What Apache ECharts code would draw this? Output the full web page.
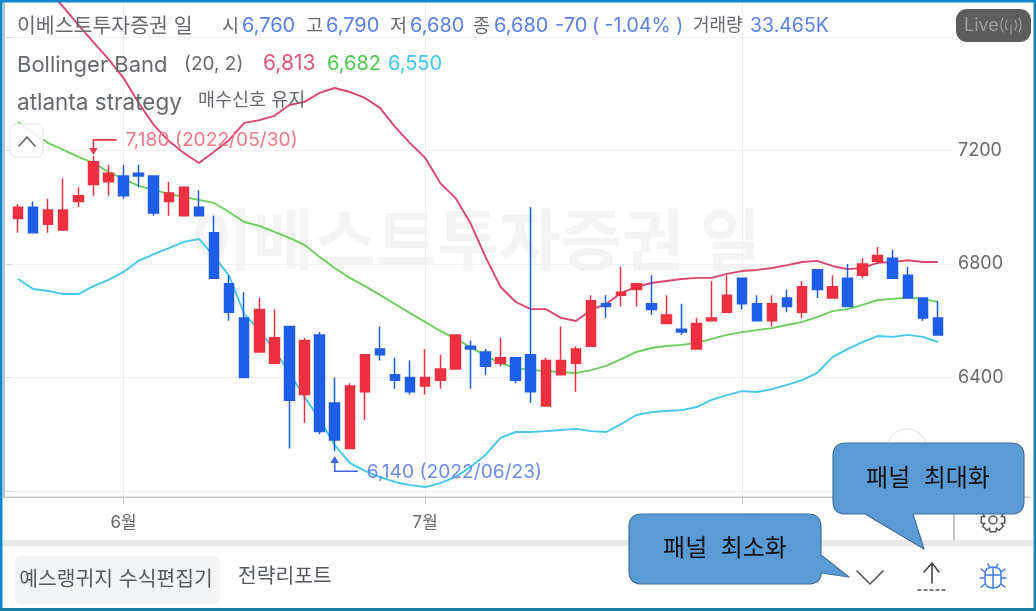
<!DOCTYPE html>
<html>
<head>
<meta charset="utf-8">
<title>이베스트투자증권 일</title>
<script src="https://cdn.jsdelivr.net/npm/echarts@6/dist/echarts.min.js"></script>
<style>
  html, body { margin: 0; padding: 0; background: #fff; }
  #main { width: 1036px; height: 611px; }
</style>
</head>
<body>
<div id="main"></div>
<script>
  // trading days 2022/05/23 ~ 2022/08/19
  var dates = ['05/23','05/24','05/25','05/26','05/27','05/30','05/31','06/02','06/03','06/07',
    '06/08','06/09','06/10','06/13','06/14','06/15','06/16','06/17','06/20','06/21',
    '06/22','06/23','06/24','06/27','06/28','06/29','06/30','07/01','07/04','07/05',
    '07/06','07/07','07/08','07/11','07/12','07/13','07/14','07/15','07/18','07/19',
    '07/20','07/21','07/22','07/25','07/26','07/27','07/28','07/29','08/01','08/02',
    '08/03','08/04','08/05','08/08','08/09','08/10','08/11','08/12','08/16','08/17',
    '08/18','08/19'];

  var opens = [6960,7000,6940,6920,7020,7080,7090,7110,7120,7110,
    7020,6970,7000,6910,6730,6610,6490,6450,6580,6340,
    6550,6310,6150,6350,6500,6410,6400,6370,6390,6430,
    6510,6490,6450,6470,6480,6300,6410,6450,6510,6660,
    6690,6710,6660,6590,6570,6500,6600,6630,6750,6660,
    6600,6680,6630,6780,6680,6750,6760,6810,6820,6760,
    6680,6610];
  var closes = [7000,6910,6990,6990,7040,7160,7120,7040,7110,6980,
    7050,7070,6970,6750,6630,6400,6640,6540,6320,6530,
    6210,6180,6370,6480,6480,6390,6350,6400,6430,6550,
    6500,6440,6470,6390,6350,6460,6460,6500,6670,6650,
    6700,6730,6640,6620,6560,6590,6610,6690,6660,6600,
    6660,6650,6720,6710,6720,6650,6800,6830,6750,6680,
    6610,6550];
  var lows = [6910,6910,6910,6920,7000,7040,7040,7030,7070,6970,
    6970,6970,6970,6750,6600,6400,6490,6450,6150,6240,
    6200,6140,6150,6250,6460,6360,6340,6340,6360,6430,
    6360,6410,6440,6380,6310,6300,6410,6350,6510,6610,
    6650,6650,6620,6590,6550,6500,6600,6630,6640,6600,
    6580,6630,6610,6680,6680,6650,6750,6800,6750,6680,
    6600,6550];
  var highs = [7010,7020,7030,7100,7070,7180,7150,7150,7150,7110,
    7090,7070,7060,6970,6760,6700,6680,6640,6580,6540,
    6560,6400,6380,6480,6580,6470,6460,6500,6480,6550,
    6530,6500,6540,6470,7000,6470,6580,6510,6690,6690,
    6790,6730,6760,6690,6660,6610,6740,6760,6750,6690,
    6690,6710,6740,6780,6760,6800,6820,6860,6850,6790,
    6680,6670];

  var bollUpper = [7889,7829,7766,7706,7642,7582,7522,7455,7367,7290,
    7233,7191,7156,7195,7237,7297,7307,7322,7360,7371,
    7403,7420,7406,7385,7350,7283,7226,7174,7085,7033,
    6944,6825,6719,6666,6641,6641,6610,6599,6638,6659,
    6698,6719,6733,6740,6747,6751,6751,6765,6775,6779,
    6786,6796,6807,6811,6793,6782,6786,6804,6807,6813,
    6807,6807];
  var bollMiddle = [7300,7262,7226,7202,7177,7156,7124,7100,7075,7061,
    7047,7036,7026,7015,6983,6948,6934,6913,6892,6867,
    6825,6786,6751,6722,6691,6659,6627,6596,6564,6536,
    6508,6476,6451,6434,6426,6423,6419,6416,6426,6441,
    6465,6490,6504,6511,6515,6522,6536,6550,6560,6567,
    6574,6585,6596,6613,6634,6641,6656,6673,6677,6682,
    6677,6666];
  var bollLower = [6747,6712,6705,6694,6694,6722,6744,6772,6811,6835,
    6856,6878,6888,6828,6758,6624,6567,6497,6416,6331,
    6254,6162,6099,6071,6049,6032,6021,6014,6028,6049,
    6085,6127,6187,6208,6208,6211,6215,6219,6211,6208,
    6236,6268,6278,6282,6285,6296,6321,6338,6352,6349,
    6359,6374,6391,6416,6472,6500,6525,6546,6543,6550,
    6543,6525];

  var monthTicks = ['06/02','07/01','08/01'];
  var monthLabels = ['6월','7월','8월'];
  var priceGrid = [6000,6400,6800,7200,7600];
  var priceLabels = [6400,6800,7200];

  var FONT = 'Inter, "Noto Sans CJK KR", sans-serif';
  var GREY = '#666a6e';
  var BLUE = '#5b80ea';
  var UP = '#ee3040';
  var DOWN = '#1f5ee8';

  var candles = dates.map(function (d, i) {
    return [opens[i], closes[i], lows[i], highs[i]];
  });

  function txt(x, y, text, color, size, align, z) {
    return {
      type: 'text', x: x, y: y, z: z || 50, silent: true,
      style: {
        text: text, fill: color, fontSize: size, fontFamily: FONT,
        align: align || 'left', verticalAlign: 'middle'
      }
    };
  }
  function box(x, y, w, h, fill, r, z, line) {
    return {
      type: 'rect', z: z || 40, silent: true,
      shape: { x: x, y: y, width: w, height: h, r: r || 0 },
      style: { fill: fill, stroke: line || null, lineWidth: line ? 1 : 0 }
    };
  }
  // graphic component has no plain 'path' type, so register each outline as a shape
  var shapeCount = 0;
  function stroke(pathData, color, width, z, fill) {
    var name = 'chromePath' + (shapeCount++);
    echarts.graphic.registerShape(name, echarts.graphic.extendPath(pathData, {}));
    return {
      type: name, z: z || 45, silent: true,
      style: { fill: fill || 'none', stroke: color, lineWidth: width, lineJoin: 'round', lineCap: 'round' }
    };
  }
  function gearPath(cx, cy, r1, r2) {
    var p = '', n = 8;
    for (var i = 0; i < n; i++) {
      var a = i * 2 * Math.PI / n;
      var pts = [[r1, a - 0.42], [r2, a - 0.24], [r2, a + 0.24], [r1, a + 0.42]];
      pts.forEach(function (q, j) {
        p += ((i === 0 && j === 0) ? 'M' : 'L') + (cx + q[0] * Math.cos(q[1])).toFixed(1) + ' ' + (cy + q[0] * Math.sin(q[1])).toFixed(1) + ' ';
      });
    }
    return p + 'Z';
  }

  var chrome = [
    // watermark
    {
      type: 'text', x: 476, y: 245, z: -1, silent: true,
      style: { text: '이베스트투자증권 일', fill: '#f4f4f5', fontSize: 67, fontWeight: 'bold', fontFamily: FONT, align: 'center', verticalAlign: 'middle' }
    },
    // axis extensions
    box(953, 497, 2, 43, '#c4c4c4', 0, 3),
    box(4, 496.5, 1026, 1.5, '#c8c8c8', 0, 3),
    // ghost button
    { type: 'circle', z: 3, silent: true, shape: { cx: 907, cy: 449, r: 20 }, style: { fill: 'none', stroke: '#ececec', lineWidth: 1.5 } },
    // legend
    txt(17, 27, '이베스트투자증권 일', GREY, 20.5),
    txt(222, 26, '시', GREY, 18.5), txt(242, 26, '6,760', BLUE, 20),
    txt(306, 26, '고', GREY, 18.5), txt(326, 26, '6,790', BLUE, 20),
    txt(390, 26, '저', GREY, 18.5), txt(410, 26, '6,680', BLUE, 20),
    txt(473, 26, '종', GREY, 18.5), txt(494, 26, '6,680', BLUE, 20),
    txt(555, 26, '-70', BLUE, 20), txt(592, 26, '( -1.04% )', BLUE, 19.5),
    txt(693, 26, '거래량', GREY, 18), txt(750, 26, '33.465K', BLUE, 19.5),
    txt(17, 65, 'Bollinger Band', GREY, 22),
    txt(184, 64, '(20, 2)', GREY, 19),
    txt(263, 64, '6,813', '#e2577a', 21),
    txt(327, 64, '6,682', '#4ccb4c', 20),
    txt(388, 64, '6,550', '#3fc6f2', 20),
    txt(17, 103, 'atlanta strategy', GREY, 22.5),
    txt(198, 100, '매수신호 유지', GREY, 18.5),
    // collapse button
    box(10, 124, 33, 33, 'rgba(255,255,255,0.85)', 6, 46, '#e4e4e4'),
    stroke('M19 146 L27 137 L35 146', '#666', 1.6, 47),
    // live badge
    box(956, 9, 75, 33, '#5d5d5d', 11, 50),
    txt(964, 26, 'Live', '#9c9c9c', 18, 'left', 51),
    stroke('M1011 25 V34 M1007 20 Q1004 25 1007 30 M1015 20 Q1018 25 1015 30 M1003 18 Q999 25 1003 32 M1019 18 Q1023 25 1019 32', '#9c9c9c', 1.3, 51),
    // bottom panel
    box(3, 540, 1030, 6.5, '#e9e9ec', 0, 40),
    box(3, 546.5, 1030, 62, '#ffffff', 0, 40),
    box(14, 556, 206, 48, '#f3f4f6', 7, 41),
    txt(116, 580, '예스랭귀지 수식편집기', '#555a60', 20.4, 'center', 42),
    txt(238, 577, '전략리포트', '#555a60', 20.4, 'left', 42),
    stroke('M857 571 L870 584 L883 571', '#555', 1.6, 42),
    stroke('M932 563 V583 M924 572 L932 563 L939 572', '#444', 1.6, 42),
    stroke('M918 590 H921 M924 590 H927 M930 590 H933 M936 590 H939 M942 590 H945', '#555', 1.4, 42),
    stroke(gearPath(993, 520, 9, 12) + ' M997 520 A4 4 0 1 0 989 520 A4 4 0 1 0 997 520 Z', '#555', 1.5, 42),
    stroke('M985 574 Q985 567 993 567 Q1001 567 1001 574 V581 Q1001 588 993 588 Q985 588 985 581 Z M993 567 V588 M985 575 H1001 M988 564 L990 568 M998 564 L996 568 M985 572 L981 569 M1001 572 L1005 569 M985 578 H980 M1001 578 H1006 M985 584 L981 587 M1001 584 L1005 587', '#3f7cec', 1.5, 42),
    // callouts
    stroke('M846 443 H1011 Q1024 443 1024 456 V501 Q1024 514 1011 514 H913 L924 549 L865 514 H846 Q833 514 833 501 V456 Q833 443 846 443 Z', '#41719c', 1.2, 60, '#5b9bd5'),
    stroke('M642 514 H808 Q821 514 821 527 V555 L849 577 L821 573 Q821 584 808 584 H642 Q629 584 629 571 V527 Q629 514 642 514 Z', '#41719c', 1.2, 61, '#5b9bd5'),
    txt(928, 479, '패널  최대화', '#111', 24, 'center', 62),
    txt(725, 549, '패널  최소화', '#111', 24, 'center', 62),
    // frame
    box(0, 0, 1036, 2.5, '#0f88cc', 0, 70),
    box(0, 0, 2.5, 611, '#0f88cc', 0, 70),
    box(1033.5, 0, 2.5, 611, '#1a86b8', 0, 70),
    box(0, 608, 1036, 3, '#1a7fa6', 0, 70)
  ];

  var chart = echarts.init(document.getElementById('main'));
  chart.setOption({
    animation: false,
    backgroundColor: '#fff',
    textStyle: { fontFamily: FONT },
    graphic: { elements: chrome },
    grid: [
      { left: 4, top: 0, width: 950, height: 497 },
      { left: 10.46, top: 0, width: 935, height: 497 }
    ],
    xAxis: [
      { type: 'value', gridIndex: 0, min: 0, max: 1, show: false },
      {
        type: 'category', gridIndex: 1, data: dates, boundaryGap: true,
        axisLine: { show: false },
        axisTick: {
          show: true, alignWithLabel: true, length: 7,
          lineStyle: { color: '#c8c8c8' },
          interval: function (i, v) { return monthTicks.indexOf(v) >= 0; }
        },
        splitLine: {
          show: true, alignWithLabel: true,
          lineStyle: { color: '#eeeeee' },
          interval: function (i, v) { return monthTicks.indexOf(v) >= 0; }
        },
        axisLabel: {
          color: GREY, fontSize: 17, margin: 17, hideOverlap: false,
          interval: function (i, v) { return monthTicks.indexOf(v) >= 0; },
          formatter: function (v) { return monthLabels[monthTicks.indexOf(v)]; }
        }
      }
    ],
    yAxis: [
      {
        type: 'value', gridIndex: 0, position: 'right', min: 5979, max: 7730,
        axisLine: { show: true, lineStyle: { color: '#c4c4c4', width: 2 } },
        axisTick: { show: true, length: 8, lineStyle: { color: '#d8d8d8' }, customValues: priceGrid },
        axisLabel: {
          color: GREY, fontSize: 18, margin: 4, padding: [4, 0, 0, 0], customValues: priceLabels,
          formatter: function (v) { return String(v); }
        },
        splitLine: { show: true, lineStyle: { color: '#f1f1f1' } }
      },
      { type: 'value', gridIndex: 1, min: 5979, max: 7730, show: false, splitLine: { show: false } }
    ],
    series: [
      {
        name: 'Upper', type: 'line', xAxisIndex: 1, yAxisIndex: 1, data: bollUpper,
        showSymbol: false, silent: true, z: 3, lineStyle: { color: '#d9476f', width: 1.9 }
      },
      {
        name: 'Middle', type: 'line', xAxisIndex: 1, yAxisIndex: 1, data: bollMiddle,
        showSymbol: false, silent: true, z: 3, lineStyle: { color: '#6ccf5c', width: 1.9 }
      },
      {
        name: 'Lower', type: 'line', xAxisIndex: 1, yAxisIndex: 1, data: bollLower,
        showSymbol: false, silent: true, z: 3, lineStyle: { color: '#45c7f0', width: 1.9 }
      },
      {
        name: '이베스트투자증권', type: 'candlestick', xAxisIndex: 1, yAxisIndex: 1, data: candles,
        barWidth: 10, z: 4,
        itemStyle: { color: UP, borderColor: UP, color0: DOWN, borderColor0: DOWN, borderWidth: 1.5 },
        markPoint: {
          silent: true,
          data: [
            {
              coord: ['05/30', 7180],
              symbol: 'path://M0 0 H24 V1.6 H1.6 V9 H5 L0.8 16 L-3.4 9 H0 Z',
              symbolSize: [27.4, 16],
              symbolOffset: [9.5, -9],
              itemStyle: { color: '#ee3b4b' },
              label: {
                show: true, position: 'right', distance: 8.8, offset: [0, -7],
                formatter: '7,180 (2022/05/30)', color: '#ee7a86', fontSize: 19.2, fontFamily: FONT
              }
            },
            {
              coord: ['06/23', 6140],
              symbol: 'path://M0 16 H24 V14.4 H1.6 V7 H5 L0.8 0 L-3.4 7 H0 Z',
              symbolSize: [27.4, 16],
              symbolOffset: [9.5, 12.7],
              itemStyle: { color: '#3f66e0' },
              label: {
                show: true, position: 'right', distance: 8.8, offset: [0, 8],
                formatter: '6,140 (2022/06/23)', color: '#6c8dea', fontSize: 19.2, fontFamily: FONT
              }
            }
          ]
        }
      }
    ]
  });
</script>
</body>
</html>
